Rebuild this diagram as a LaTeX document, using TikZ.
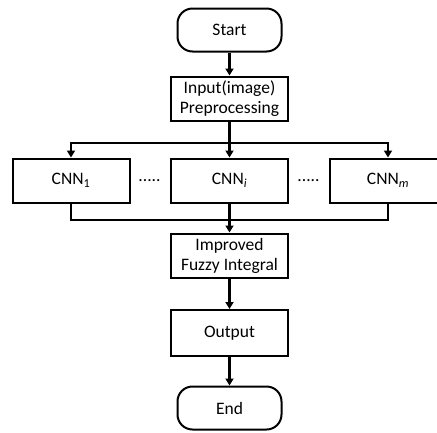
\documentclass[tikz,border=0pt]{standalone}
\usepackage{fontspec}
\setmainfont{Carlito}
\usetikzlibrary{arrows.meta}
\tikzset{
  every node/.style={font=\fontsize{17.5}{20}\selectfont, align=center, inner sep=0pt},
  proc/.style={draw, line width=2pt, minimum width=117pt, minimum height=44pt},
  term/.style={draw, line width=2pt, rounded corners=15pt, minimum width=104pt, minimum height=43pt},
  link/.style={line width=2.2pt},
  arr/.style={link, -{Triangle[length=7pt,width=8pt]}}
}
\begin{document}
\begin{tikzpicture}[x=1pt,y=-1pt]
  \useasboundingbox (0,0) rectangle (437,432);
  \clip (0,0) rectangle (437,432);

  % main column
  \node[term] (start) at (229.5,30) {Start};
  \node[proc] (input) at (229.5,98.5) {Input(image)\\Preprocessing};

  % parallel networks
  \node[proc] (cnn1) at (71,180.5) {CNN\textsubscript{1}};
  \node[proc] (cnni) at (229.5,180.5) {CNN\textsubscript{\textit{i}}};
  \node[proc] (cnnm) at (388,180.5) {CNN\textsubscript{\textit{m}}};
  \node (dotsa) at (149.5,181) {.....};
  \node (dotsb) at (308.5,181) {.....};

  \node[proc] (fuzzy) at (229.5,255.5) {Improved\\Fuzzy Integral};
  \node[proc, minimum height=46pt] (out) at (229.5,333) {Output};
  \node[term] (end) at (229.5,408) {End};

  % split and merge points
  \coordinate (split) at (229.5,143);
  \coordinate (merge) at (229.5,220);

  \draw[arr] (start.south) -- (input.north);
  \draw[link] (input.south) -- (split);
  \draw[arr] (split) -| (cnn1.north);
  \draw[arr] (split) -| (cnnm.north);
  \draw[arr] (split) -- (cnni.north);

  \draw[link] (cnn1.south) |- (merge);
  \draw[link] (cnnm.south) |- (merge);
  \draw[arr] (cnni.south) -- (fuzzy.north);

  \draw[arr] (fuzzy.south) -- (out.north);
  \draw[arr] (out.south) -- (end.north);
\end{tikzpicture}
\end{document}
